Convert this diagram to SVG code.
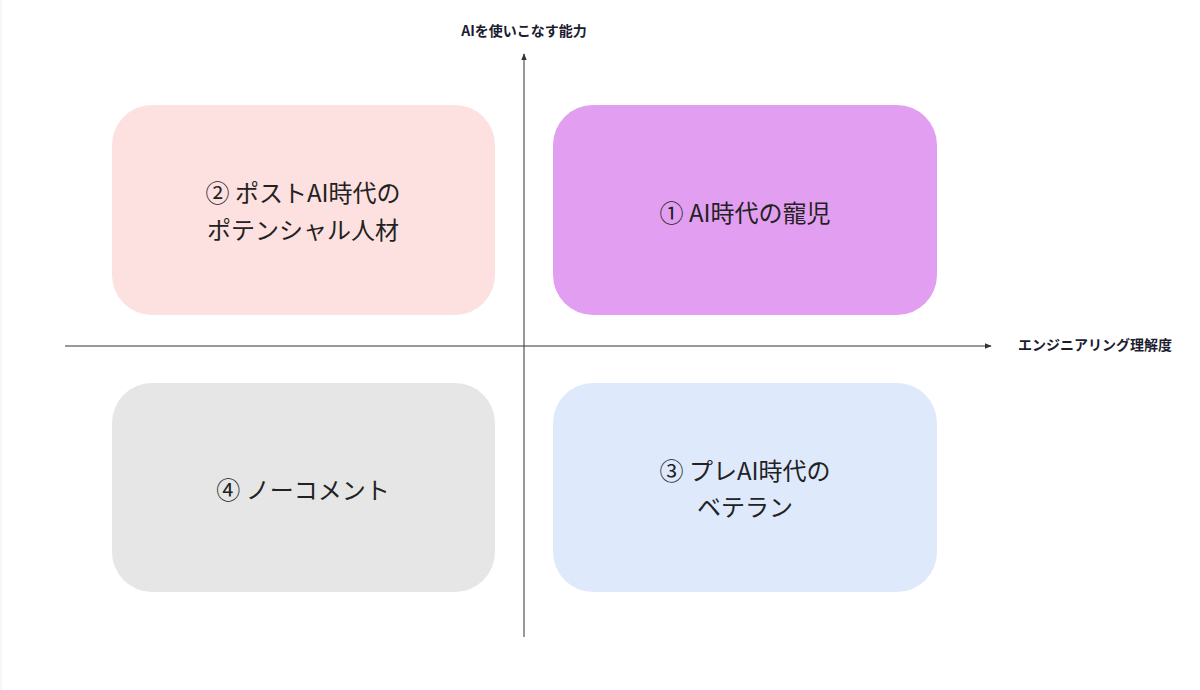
<svg xmlns="http://www.w3.org/2000/svg" width="1200" height="690" viewBox="0 0 1200 690">
<style>
.box{stroke:none}
.t{font-family:"Noto Sans CJK JP","Liberation Sans",sans-serif;font-size:24px;fill:#222;text-anchor:middle;dominant-baseline:central}
.ax{font-family:"Noto Sans CJK JP","Liberation Sans",sans-serif;font-size:14px;font-weight:bold;fill:#1c1c30;dominant-baseline:central}
.axis{stroke:#333;stroke-width:1;fill:none}
</style>
<defs>
<marker id="arr" viewBox="0 0 10 10" refX="9" refY="5" markerWidth="7" markerHeight="7" orient="auto" markerUnits="userSpaceOnUse">
<path d="M0,1 L10,5 L0,9 Z" fill="#333"/>
</marker>
</defs>
<rect width="1200" height="690" fill="#fff"/>
<line x1="1" y1="0" x2="1" y2="690" stroke="#eee" stroke-width="1"/>
<g id="connectors">
<line class="axis" x1="524" y1="637" x2="524" y2="54" marker-end="url(#arr)"/>
<line class="axis" x1="65" y1="346" x2="991" y2="346" marker-end="url(#arr)"/>
</g>
<g id="q2">
<rect class="box" x="112" y="105" width="383" height="210" rx="40" fill="#fde0e0"/>
<text class="t" x="303" y="191">② ポストAI時代の</text>
<text class="t" x="303" y="228">ポテンシャル人材</text>
</g>
<g id="q1">
<rect class="box" x="553" y="105" width="384" height="210" rx="40" fill="#e29ff1"/>
<text class="t" x="745" y="211">① AI時代の寵児</text>
</g>
<g id="q4">
<rect class="box" x="112" y="383" width="383" height="209" rx="40" fill="#e6e6e6"/>
<text class="t" x="303" y="488">④ ノーコメント</text>
</g>
<g id="q3">
<rect class="box" x="553" y="383" width="384" height="209" rx="40" fill="#dfe9fc"/>
<text class="t" x="745" y="469">③ プレAI時代の</text>
<text class="t" x="745" y="505">ベテラン</text>
</g>
<g id="labels">
<text class="ax" x="524" y="30" text-anchor="middle">AIを使いこなす能力</text>
<text class="ax" x="1018" y="344">エンジニアリング理解度</text>
</g>
</svg>
